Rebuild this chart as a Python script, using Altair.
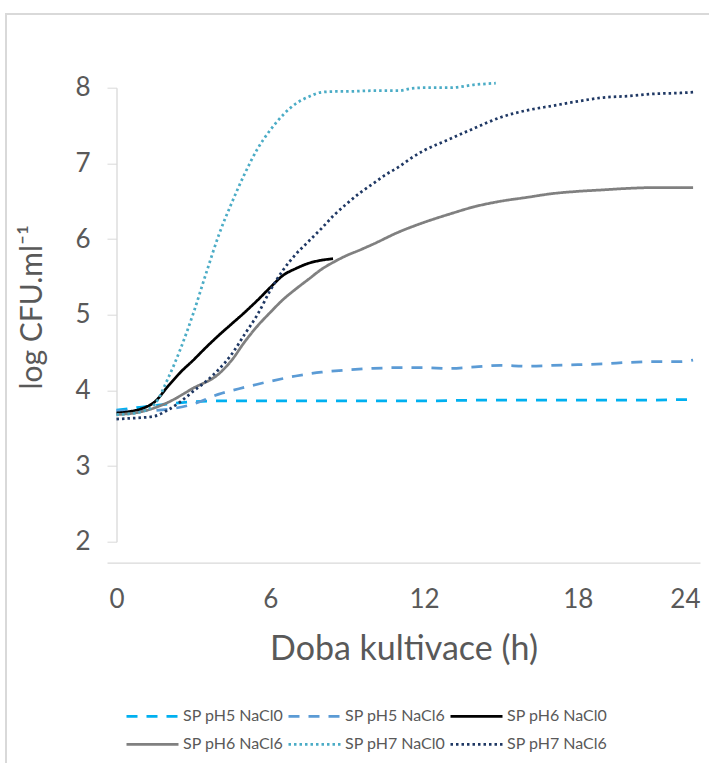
import altair as alt
import pandas as pd

# Growth curves: log CFU/ml over cultivation time (h)
series_names = ["SP pH5 NaCl0", "SP pH5 NaCl6", "SP pH6 NaCl0",
                "SP pH6 NaCl6", "SP pH7 NaCl0", "SP pH7 NaCl6"]

t_ph5_nacl0 = [0, 1, 2, 3, 4, 5, 6, 8, 10, 12, 14, 16, 18, 20, 22.5]
v_ph5_nacl0 = [3.74, 3.78, 3.82, 3.85, 3.86, 3.86, 3.86, 3.86, 3.86, 3.86,
               3.87, 3.87, 3.87, 3.87, 3.88]

t_ph5_nacl6 = [0, 1, 2, 3, 4, 5, 6, 7, 8, 9, 10, 11, 12, 13, 14, 15, 16,
               17, 18, 19, 20, 21, 22, 22.5]
v_ph5_nacl6 = [3.73, 3.73, 3.75, 3.82, 3.95, 4.04, 4.12, 4.19, 4.24, 4.27,
               4.29, 4.30, 4.30, 4.29, 4.31, 4.33, 4.32, 4.33, 4.34, 4.35,
               4.37, 4.38, 4.38, 4.40]

t_ph6_nacl0 = [0, 0.5, 1, 1.5, 2, 2.5, 3, 3.5, 4, 4.5, 5, 5.5, 6, 6.5, 7,
               7.5, 8, 8.45]
v_ph6_nacl0 = [3.70, 3.72, 3.76, 3.85, 4.05, 4.24, 4.40, 4.57, 4.73, 4.88,
               5.03, 5.19, 5.36, 5.52, 5.61, 5.68, 5.72, 5.74]

t_ph6_nacl6 = [0, 1, 2, 3, 4, 4.5, 5, 5.5, 6, 6.5, 7, 7.5, 8, 8.5, 9, 9.5,
               10, 11, 12, 13, 14, 15, 16, 17, 18, 19, 20, 21, 22, 22.5]
v_ph6_nacl6 = [3.68, 3.72, 3.84, 4.03, 4.22, 4.40, 4.64, 4.85, 5.03, 5.20,
               5.34, 5.47, 5.60, 5.70, 5.785, 5.855, 5.93, 6.09, 6.22, 6.33,
               6.43, 6.50, 6.55, 6.60, 6.63, 6.65, 6.67, 6.68, 6.68, 6.68]

t_ph7_nacl0 = [0, 0.5, 1, 1.5, 2, 2.5, 3, 3.5, 4, 4.5, 5, 5.5, 6, 6.5, 7,
               7.5, 8, 8.5, 9, 10, 11, 11.5, 12, 13, 14, 14.8]
v_ph7_nacl0 = [3.68, 3.69, 3.72, 3.82, 4.15, 4.55, 5.02, 5.55, 6.06, 6.48,
               6.86, 7.19, 7.44, 7.64, 7.79, 7.88, 7.94, 7.95, 7.95, 7.96,
               7.96, 7.99, 8.00, 8.00, 8.04, 8.06]

t_ph7_nacl6 = [0, 0.5, 1, 1.5, 2, 2.5, 3, 3.5, 4, 4.5, 5, 5.5, 6, 6.5, 7,
               7.5, 8, 8.5, 9, 9.5, 10, 10.5, 11, 11.5, 12, 13, 14, 15, 16,
               17, 18, 19, 20, 21, 22, 22.5]
v_ph7_nacl6 = [3.62, 3.63, 3.64, 3.66, 3.74, 3.85, 3.99, 4.12, 4.28, 4.48,
               4.74, 5.00, 5.32, 5.59, 5.80, 5.97, 6.14, 6.32, 6.47, 6.61,
               6.73, 6.85, 6.95, 7.07, 7.17, 7.32, 7.47, 7.61, 7.70, 7.76,
               7.82, 7.87, 7.89, 7.92, 7.93, 7.94]

x_tick_values = [0, 6, 12, 18]
x_end_label = "24"
y_tick_values = [2, 3, 4, 5, 6, 7, 8]

series_colors = ["#00B0F0", "#5B9BD5", "#000000", "#808080", "#4BACC6", "#1F3864"]
series_dashes = [[11, 9], [11, 9], [1, 0], [1, 0], [2.5, 3], [2.5, 3]]

all_t = [t_ph5_nacl0, t_ph5_nacl6, t_ph6_nacl0, t_ph6_nacl6, t_ph7_nacl0, t_ph7_nacl6]
all_v = [v_ph5_nacl0, v_ph5_nacl6, v_ph6_nacl0, v_ph6_nacl6, v_ph7_nacl0, v_ph7_nacl6]

rows = []
for name, ts, vs in zip(series_names, all_t, all_v):
    for t, v in zip(ts, vs):
        rows.append({"series": name, "t": t, "v": v})
df = pd.DataFrame(rows)

X_MIN, X_MAX = -0.37, 22.77
FONT = "Lato"
TEXT = "#595959"
AXIS_LINE = "#D9D9D9"

x_enc = alt.X(
    "t:Q",
    scale=alt.Scale(domain=[X_MIN, X_MAX], nice=False, zero=False),
    axis=alt.Axis(
        title="Doba kultivace (h)",
        values=x_tick_values + [X_MAX],
        labelExpr=f"datum.value > 20 ? '{x_end_label}' : datum.label",
        labelFlush=True,
        ticks=False,
        tickSize=0,
        grid=False,
        offset=21,
        domainColor=AXIS_LINE,
        domainWidth=1.3,
        labelFontSize=26,
        labelBaseline="alphabetic",
        labelPadding=45,
        titleFontSize=34,
        titleY=97,
        titleBaseline="alphabetic",
    ),
)

y_enc = alt.Y(
    "v:Q",
    scale=alt.Scale(domain=[2, 8], nice=False, zero=False),
    axis=alt.Axis(
        title="log CFU.ml⁻¹",
        values=y_tick_values,
        grid=False,
        offset=-9.5,
        tickSize=9.5,
        tickColor=AXIS_LINE,
        domainColor=AXIS_LINE,
        domainWidth=1.3,
        labelFontSize=26,
        labelPadding=17,
        titleFontSize=30,
        titleX=-75,
        titleY=219,
        titleBaseline="alphabetic",
    ),
)


def series_legend(legend_y):
    return alt.Legend(
        title=None,
        orient="none",
        direction="horizontal",
        legendX=18,
        legendY=legend_y,
        columns=3,
        symbolType="stroke",
        symbolSize=2704,
        symbolStrokeWidth=2.75,
        labelFontSize=16,
        labelFont=FONT,
        labelColor=TEXT,
        labelOffset=3,
        columnPadding=-1,
    )


def series_lines(idx, legend_y):
    # one legend row per group of three series
    names = [series_names[i] for i in idx]
    colors = [series_colors[i] for i in idx]
    dashes = [series_dashes[i] for i in idx]
    return alt.Chart(df[df["series"].isin(names)]).mark_line(
        strokeWidth=2.75, interpolate="monotone"
    ).encode(
        x=x_enc,
        y=y_enc,
        color=alt.Color("series:N", scale=alt.Scale(domain=names, range=colors),
                        sort=names, legend=series_legend(legend_y)),
        strokeDash=alt.StrokeDash("series:N", scale=alt.Scale(domain=names, range=dashes),
                                  sort=names, legend=series_legend(legend_y)),
    )


row1 = series_lines([0, 1, 2], 601)
row2 = series_lines([3, 4, 5], 629)

# light border framing the chart area
frame = alt.Chart(alt.Data(values=[{}])).mark_rect(
    filled=False, stroke=AXIS_LINE, strokeWidth=2
).encode(
    x=alt.value(-101), x2=alt.value(700),
    y=alt.value(-73.7), y2=alt.value(800),
)

chart = alt.layer(frame, row1, row2).resolve_scale(
    color="independent", strokeDash="independent"
).resolve_legend(
    color="independent", strokeDash="independent"
).properties(
    width=593,
    height=454,
    autosize=alt.AutoSizeParams(type="none"),
    padding={"left": 107, "top": 87.7, "right": 9, "bottom": 221.3},
    background="white",
).configure_view(stroke=None).configure_axis(
    labelFont=FONT, titleFont=FONT, labelColor=TEXT, titleColor=TEXT,
    titleFontWeight="normal",
)

chart.save("out.html", embed_options={"renderer": "svg", "actions": False})
